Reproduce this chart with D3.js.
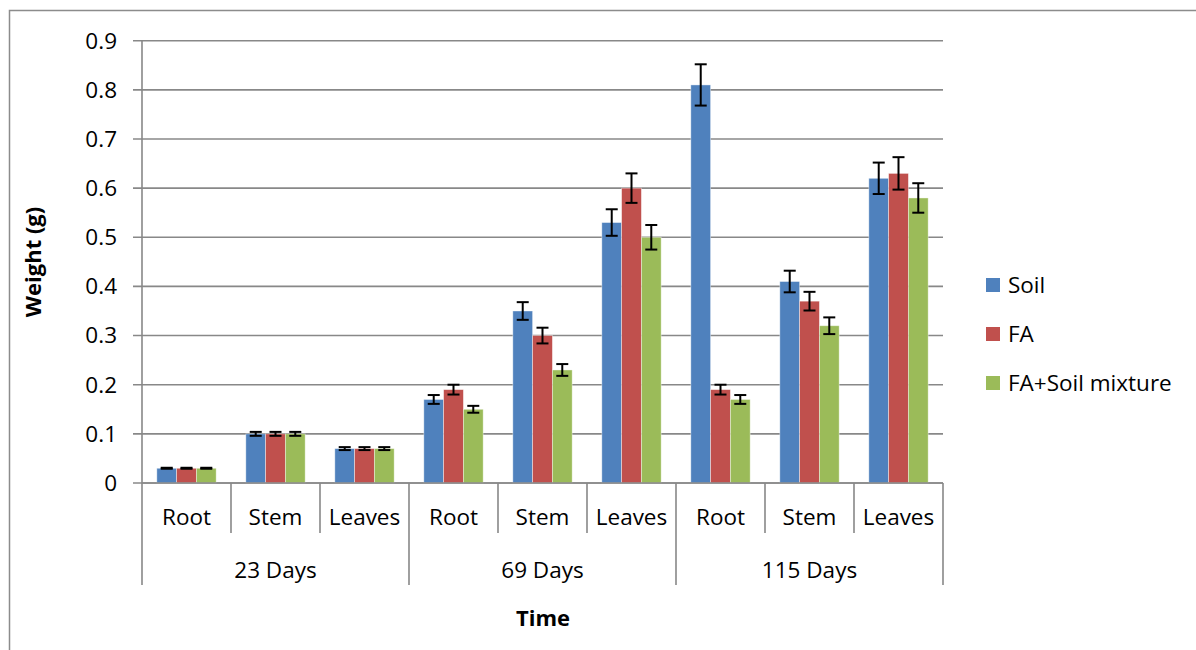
<!DOCTYPE html>
<html><head><meta charset="utf-8">
<script src="https://cdn.jsdelivr.net/npm/d3@7"></script>
<style>body{margin:0;background:#fff}svg{display:block}text{font-family:"Open Sans","Noto Sans",sans-serif;fill:#000}</style>
</head><body><svg id="c" width="1196" height="650"></svg>
<script>
const groups = ["23 Days","69 Days","115 Days"];
const parts = ["Root","Stem","Leaves"];
const seriesNames = ["Soil","FA","FA+Soil mixture"];
const colors = ["#4F81BD","#C0504D","#9BBB59"];
const soil = [0.03,0.10,0.07, 0.17,0.35,0.53, 0.81,0.41,0.62];
const fa   = [0.03,0.10,0.07, 0.19,0.30,0.60, 0.19,0.37,0.63];
const mix  = [0.03,0.10,0.07, 0.15,0.23,0.50, 0.17,0.32,0.58];
const soilErr = [0.001,0.004,0.003, 0.009,0.018,0.027, 0.042,0.022,0.032];
const faErr   = [0.001,0.004,0.003, 0.010,0.016,0.030, 0.010,0.019,0.033];
const mixErr  = [0.001,0.004,0.003, 0.007,0.012,0.025, 0.009,0.017,0.030];
const yTicks = [0,0.1,0.2,0.3,0.4,0.5,0.6,0.7,0.8,0.9];

const values = [soil, fa, mix];
const errs = [soilErr, faErr, mixErr];
const cats = [];
groups.forEach(g => parts.forEach(p => cats.push(g + "|" + p)));

const svg = d3.select("#c");
const L = 142, R = 943, T = 40.7, B = 483;
const FS = 22.5;
svg.append("rect").attr("x",9.5).attr("y",10.5).attr("width",1200).attr("height",700)
  .attr("fill","none").attr("stroke","#8c8c8c").attr("stroke-width",1.5);

const x = d3.scaleBand().domain(cats).range([L,R]).paddingInner(0).paddingOuter(0);
const bw = x.bandwidth()/4.5;
const y = d3.scaleLinear().domain([0,0.9]).range([B,T]);

// gridlines + y ticks
const gy = svg.append("g");
yTicks.forEach(t => {
  gy.append("line").attr("x1",L-9).attr("x2",R).attr("y1",y(t)).attr("y2",y(t))
    .attr("stroke","#888").attr("stroke-width",1.6);
  gy.append("text").attr("x",L-25).attr("y",y(t)).attr("dy","0.35em").attr("text-anchor","end")
    .attr("font-size",FS).text(t===0?"0":t.toFixed(1));
});
svg.append("line").attr("x1",L).attr("x2",L).attr("y1",T).attr("y2",585).attr("stroke","#888").attr("stroke-width",1.6);

// bars
values.forEach((vals, s) => {
  const g = svg.append("g");
  vals.forEach((v,i) => {
    const x0 = x(cats[i]) + 0.75*bw + s*bw;
    g.append("rect").attr("x",x0).attr("y",y(v)).attr("width",bw).attr("height",y(0)-y(v))
      .attr("fill",colors[s]).attr("stroke","#fff").attr("stroke-opacity",0.5).attr("stroke-width",0.8);
  });
});
// error bars
values.forEach((vals, s) => {
  const g = svg.append("g").attr("stroke","#000").attr("stroke-width",2);
  vals.forEach((v,i) => {
    const cx = x(cats[i]) + 0.75*bw + s*bw + bw/2;
    const e = errs[s][i];
    g.append("line").attr("x1",cx).attr("x2",cx).attr("y1",y(v+e)).attr("y2",y(v-e));
    [v+e, v-e].forEach(q => g.append("line").attr("x1",cx-6).attr("x2",cx+6).attr("y1",y(q)).attr("y2",y(q)));
  });
});

svg.append("line").attr("x1",L).attr("x2",R).attr("y1",B).attr("y2",B).attr("stroke","#888").attr("stroke-width",1.6);
cats.forEach((c,i) => {
  const xx = x(c) + x.bandwidth();
  const groupEnd = (i % 3) === 2;
  svg.append("line").attr("x1",xx).attr("x2",xx).attr("y1",B).attr("y2",groupEnd?585:533)
    .attr("stroke","#888").attr("stroke-width",1.6);
  svg.append("text").attr("x",x(c)+x.bandwidth()/2).attr("y",517).attr("dy","0.35em")
    .attr("text-anchor","middle").attr("font-size",FS).text(parts[i%3]);
});
groups.forEach((g,gi) => {
  const x0 = x(cats[gi*3]), x1 = x(cats[gi*3+2]) + x.bandwidth();
  svg.append("text").attr("x",(x0+x1)/2).attr("y",570).attr("dy","0.35em")
    .attr("text-anchor","middle").attr("font-size",FS).text(g);
});

svg.append("text").attr("x",543).attr("y",618).attr("dy","0.35em").attr("text-anchor","middle")
  .attr("font-size",22).attr("font-weight","bold").text("Time");
svg.append("text").attr("transform","translate(33,262) rotate(-90)").attr("dy","0.35em")
  .attr("text-anchor","middle").attr("font-size",22).attr("font-weight","bold").text("Weight (g)");

seriesNames.forEach((n,i) => {
  const cy = 285 + i*49;
  svg.append("rect").attr("x",986).attr("y",cy-7).attr("width",14).attr("height",14).attr("fill",colors[i]);
  svg.append("text").attr("x",1008).attr("y",cy).attr("dy","0.35em").attr("font-size",FS).text(n);
});
</script></body></html>
